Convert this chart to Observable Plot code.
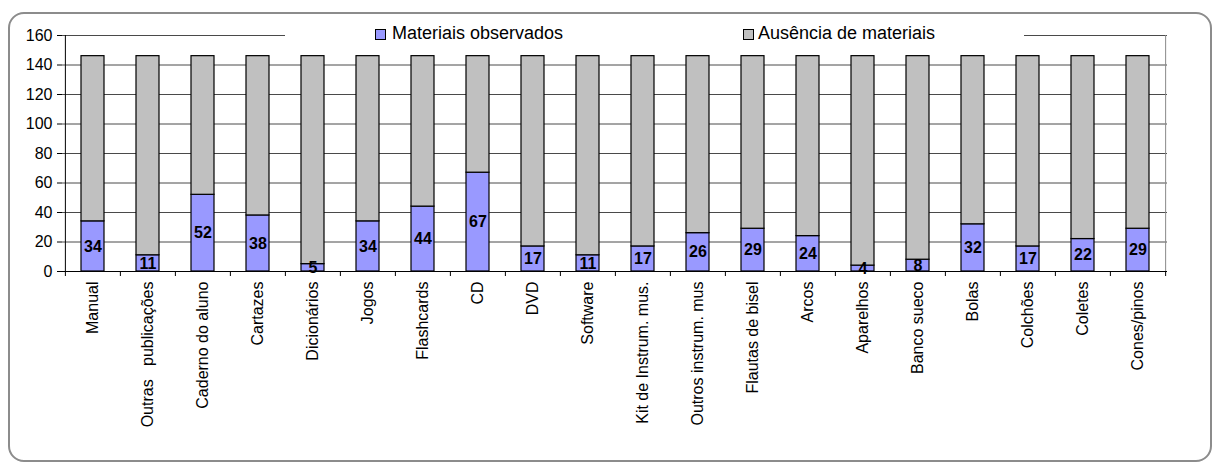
<!DOCTYPE html>
<html>
<head>
<meta charset="utf-8">
<script src="https://cdn.jsdelivr.net/npm/d3@7"></script>
<script src="https://cdn.jsdelivr.net/npm/@observablehq/plot@0.6"></script>
<style>
  html, body { margin: 0; padding: 0; background: white; }
  #wrap { position: relative; width: 1219px; height: 463px; overflow: hidden;
          font-family: Arial, "Liberation Sans", sans-serif; }
  #wrap svg text { white-space: pre; }
  #frame { position: absolute; left: 8px; top: 12px; width: 1200px; height: 446px;
           border: 2px solid #8c8c8c; border-radius: 16px; pointer-events: none; }
  #legend { position: absolute; left: 285px; top: 20px; width: 739px; height: 26px;
            background: white; }
  .item { position: absolute; top: 0; height: 26px; font-size: 18px; line-height: 26px;
          color: #000; white-space: nowrap; }
  .swatch { position: absolute; top: 9px; width: 9px; height: 9px; border: 1px solid #000; }
</style>
</head>
<body>
<div id="wrap">
  <div id="chart"></div>
  <div id="legend"></div>
  <div id="frame"></div>
</div>
<script>
// Materials found in classrooms (counts out of the observed total)
const categories = [
  "Manual", "Outras   publicações", "Caderno do aluno", "Cartazes", "Dicionários",
  "Jogos", "Flashcards", "CD", "DVD", "Software", "Kit de Instrum. mus.",
  "Outros instrum. mus", "Flautas de bisel", "Arcos", "Aparelhos", "Banco sueco",
  "Bolas", "Colchões", "Coletes", "Cones/pinos"
];
const observed = [34, 11, 52, 38, 5, 34, 44, 67, 17, 11, 17, 26, 29, 24, 4, 8, 32, 17, 22, 29];
const absent   = [112, 135, 94, 108, 141, 112, 102, 79, 129, 135, 129, 120, 117, 122, 142, 138, 114, 129, 124, 117];
const seriesNames = ["Materiais observados", "Ausência de materiais"];
const seriesColors = ["#9999FF", "#C0C0C0"];
const yTicks = [0, 20, 40, 60, 80, 100, 120, 140, 160];

const rows = categories.flatMap((c, i) => [
  {cat: c, series: seriesNames[0], value: observed[i]},
  {cat: c, series: seriesNames[1], value: absent[i]}
]);

const W = 1219, H = 463, ML = 62, MR = 52, MT = 35, MB = 192;
const bw = (W - ML - MR) / categories.length;
const tickLen = 5 * 160 / (H - MT - MB); // 5px in data units
const first = categories[0], last = categories[categories.length - 1];

const chart = Plot.plot({
  width: W, height: H,
  marginLeft: ML, marginRight: MR, marginTop: MT, marginBottom: MB,
  style: {fontFamily: 'Arial, "Liberation Sans", sans-serif', fontSize: "16px", background: "white", color: "#000"},
  x: {domain: categories, padding: 0, label: null},
  y: {domain: [0, 160], label: null},
  color: {domain: seriesNames, range: seriesColors},
  marks: [
    Plot.ruleY(yTicks.filter(v => v > 0), {stroke: "#4a4a4a", strokeWidth: 1}),
    // right edge of the plot area
    Plot.ruleX([last], {dx: bw / 2, y1: 0, y2: 160, stroke: "#888"}),
    Plot.barY(rows, {x: "cat", y: "value", fill: "series", stroke: "#000", strokeWidth: 1.2,
                     insetLeft: 16, insetRight: 16}),
    Plot.text(rows.filter(d => d.series === seriesNames[0]), {
      x: "cat", y: d => d.value / 2, text: d => String(d.value),
      fontWeight: "bold", fontSize: 16, fill: "#000"
    }),
    // axis lines
    Plot.ruleY([0], {stroke: "#000"}),
    Plot.ruleX([first], {dx: -bw / 2, y1: 0, y2: 160, stroke: "#000"}),
    // category boundary ticks
    Plot.ruleX(categories, {x: d => d, dx: -bw / 2, y1: 0, y2: -tickLen, stroke: "#000"}),
    Plot.ruleX([last], {dx: bw / 2, y1: 0, y2: -tickLen, stroke: "#000"}),
    Plot.axisY({ticks: yTicks, tickSize: 5, tickPadding: 5, fontSize: 16, stroke: "#000"}),
    Plot.axisX({tickSize: 0, tickPadding: 10, tickRotate: -90, fontSize: 16})
  ]
});
document.getElementById("chart").appendChild(chart);

// legend
const legend = document.getElementById("legend");
const legendPos = [[90, 107], [458, 473]]; // swatch / text offsets within the legend box
seriesNames.forEach((name, i) => {
  const sw = document.createElement("div");
  sw.className = "swatch";
  sw.style.left = legendPos[i][0] + "px";
  sw.style.background = seriesColors[i];
  legend.appendChild(sw);
  const t = document.createElement("div");
  t.className = "item";
  t.style.left = legendPos[i][1] + "px";
  t.textContent = name;
  legend.appendChild(t);
});
</script>
</body>
</html>
